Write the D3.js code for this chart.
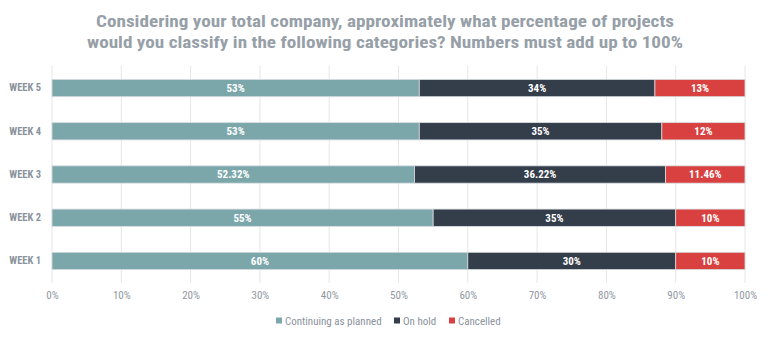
<!DOCTYPE html>
<html>
<head>
<meta charset="utf-8">
<script src="https://cdn.jsdelivr.net/npm/d3@7"></script>
<style>
  html, body { margin: 0; padding: 0; background: #fff; }
  svg { display: block; }
  text { font-family: "Roboto Condensed", "Liberation Sans Narrow", Roboto, sans-serif; }
</style>
</head>
<body>
<svg id="chart" width="770" height="339"></svg>
<script>
// Survey answers per week, in percent
const weeks = ["WEEK 5", "WEEK 4", "WEEK 3", "WEEK 2", "WEEK 1"];
const continuing = [53, 53, 52.32, 55, 60];
const onHold = [34, 35, 36.22, 35, 30];
const cancelled = [13, 12, 11.46, 10, 10];
const seriesNames = ["Continuing as planned", "On hold", "Cancelled"];
const seriesColors = ["#7ba7ab", "#343d4a", "#d94141"];
const xTicks = [0, 10, 20, 30, 40, 50, 60, 70, 80, 90, 100];
const titleLines = [
  "Considering your total company, approximately what percentage of projects",
  "would you classify in the following categories? Numbers must add up to 100%"
];

const svg = d3.select("#chart");
const W = 770;
const plotLeft = 52, plotRight = 745, plotTop = 66, plotBottom = 283;
const FONT = "\"Roboto Condensed\", \"Liberation Sans Narrow\", Roboto, sans-serif";

const x = d3.scaleLinear().domain([0, 100]).range([plotLeft, plotRight]);
const y = d3.scaleBand().domain(weeks).range([plotTop, plotBottom]).paddingInner(0.6).paddingOuter(0.31);

// Title, two centred lines
const titleWidths = [578, 596];
svg.selectAll("text.title").data(titleLines).join("text")
  .attr("class", "title")
  .attr("x", (d, i) => i === 0 ? 385 : 385)
  .attr("y", (d, i) => 27 + i * 21)
  .attr("text-anchor", "middle")
  .attr("fill", "#979fa8")
  .attr("font-family", "Roboto, sans-serif")
  .attr("font-size", 17)
  .attr("font-weight", 700)
  .attr("textLength", (d, i) => titleWidths[i])
  .attr("lengthAdjust", "spacingAndGlyphs")
  .text(d => d);

// Vertical gridlines
svg.append("g").selectAll("line").data(xTicks).join("line")
  .attr("x1", d => x(d)).attr("x2", d => x(d))
  .attr("y1", plotTop).attr("y2", plotBottom)
  .attr("stroke", "#e6e6e6").attr("stroke-width", 1);

// X axis labels
const xAxis = d3.axisBottom(x).tickValues(xTicks).tickFormat(d => d + "%").tickSize(0).tickPadding(0);
const gx = svg.append("g").attr("transform", `translate(0, ${plotBottom + 8})`).call(xAxis);
gx.select(".domain").remove();
gx.selectAll("text")
  .attr("fill", "#8f98a2")
  .attr("font-size", 11)
  .attr("font-family", FONT);

// Y axis labels
const yAxis = d3.axisLeft(y).tickSize(0).tickPadding(0);
const gy = svg.append("g").attr("transform", `translate(41, 0)`).call(yAxis);
gy.select(".domain").remove();
gy.selectAll("text")
  .attr("fill", "#8a929c")
  .attr("font-size", 10.5)
  .attr("font-weight", 700)
  .attr("font-family", FONT);

// Stacked bars
const rows = weeks.map((w, i) => ({ week: w, values: [continuing[i], onHold[i], cancelled[i]] }));
const segs = [];
rows.forEach(r => {
  let acc = 0;
  r.values.forEach((v, k) => {
    segs.push({ week: r.week, k, v, x0: acc, x1: acc + v });
    acc += v;
  });
});

const gBars = svg.append("g");
gBars.selectAll("rect").data(segs).join("rect")
  .attr("x", d => x(d.x0))
  .attr("y", d => y(d.week))
  .attr("width", d => x(d.x1) - x(d.x0))
  .attr("height", y.bandwidth())
  .attr("fill", d => seriesColors[d.k])
  .attr("stroke", "#d8dcdf")
  .attr("stroke-width", 0.8);

gBars.selectAll("text").data(segs).join("text")
  .attr("x", d => x((d.x0 + d.x1) / 2))
  .attr("y", d => y(d.week) + y.bandwidth() / 2)
  .attr("dy", "0.35em")
  .attr("text-anchor", "middle")
  .attr("fill", "#fff")
  .attr("font-size", 11)
  .attr("font-weight", 700)
  .text(d => d.v + "%");

// Legend
const legendX = [276, 394, 449];
const lg = svg.append("g").selectAll("g").data(seriesNames).join("g")
  .attr("transform", (d, i) => `translate(${legendX[i]}, 321)`);
lg.append("rect").attr("x", 0).attr("y", -3.5).attr("width", 6).attr("height", 6)
  .attr("fill", (d, i) => seriesColors[i]);
lg.append("text").attr("x", 9).attr("y", 0).attr("dy", "0.35em")
  .attr("fill", "#8a929c").attr("font-size", 11)
  .text(d => d);
</script>
</body>
</html>
